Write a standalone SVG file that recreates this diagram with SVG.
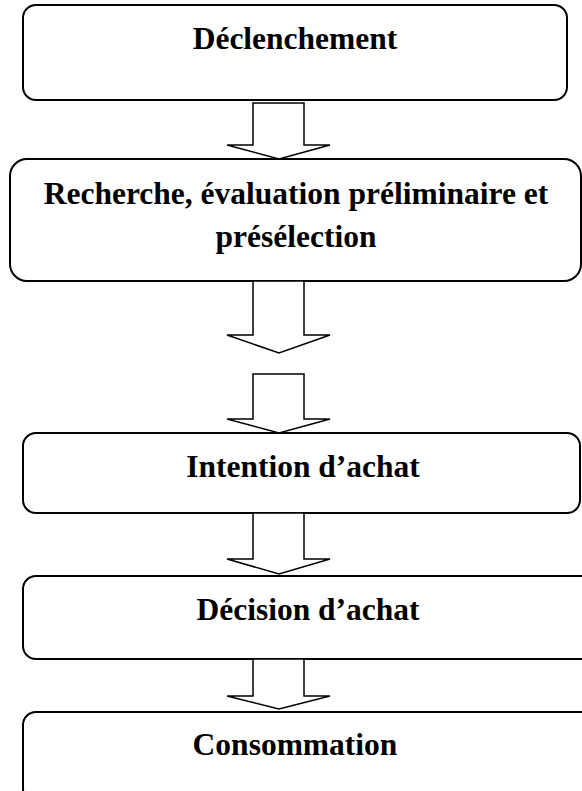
<svg xmlns="http://www.w3.org/2000/svg" width="582" height="791" viewBox="0 0 582 791">
  <style>
    .box { fill: #ffffff; stroke: #000000; stroke-width: 2; }
    .arrow { fill: #ffffff; stroke: #000000; stroke-width: 1.5; stroke-linejoin: miter; }
    .label { font-family: "Liberation Serif", "Times New Roman", serif; font-weight: bold; font-size: 31.5px; fill: #000000; text-anchor: middle; }
  </style>
  <rect width="582" height="791" fill="#ffffff"/>

  <g id="step-declenchement">
    <rect class="box" x="23" y="5" width="544" height="95" rx="13" ry="13"/>
    <text class="label" x="295" y="49">Déclenchement</text>
  </g>

  <g id="step-recherche">
    <rect class="box" x="10" y="159" width="571" height="122" rx="17" ry="17"/>
    <text class="label" x="296" y="204">Recherche, évaluation préliminaire et</text>
    <text class="label" x="296" y="247">présélection</text>
  </g>

  <g id="step-intention">
    <rect class="box" x="23" y="433" width="557" height="80" rx="13" ry="13"/>
    <text class="label" x="303" y="477">Intention d’achat</text>
  </g>

  <g id="step-decision">
    <rect class="box" x="23" y="576" width="580" height="83" rx="13" ry="13"/>
    <text class="label" x="308" y="620">Décision d’achat</text>
  </g>

  <g id="step-consommation">
    <rect class="box" x="23" y="712" width="590" height="90" rx="13" ry="13"/>
    <text class="label" x="295" y="755">Consommation</text>
  </g>

  <g id="connectors">
    <polygon class="arrow" points="253,103 304,103 304,145 330,145 279,159 227,145 253,145"/>
    <polygon class="arrow" points="253,281 304,281 304,335 330,335 279,353 227,335 253,335"/>
    <polygon class="arrow" points="253,374 304,374 304,419 330,419 279,433 227,419 253,419"/>
    <polygon class="arrow" points="253,513 304,513 304,559 330,559 279,574 227,559 253,559"/>
    <polygon class="arrow" points="253,659 304,659 304,696 330,696 279,709 227,696 253,696"/>
  </g>
</svg>
